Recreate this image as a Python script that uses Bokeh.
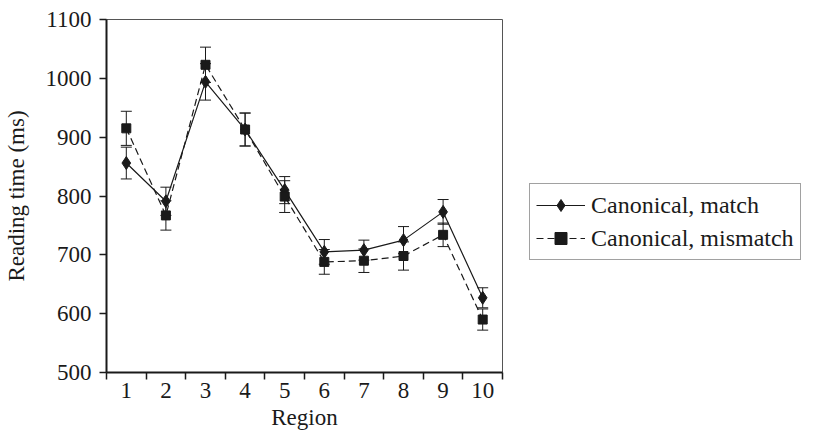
from bokeh.plotting import figure
from bokeh.models import (ColumnDataSource, Whisker, TeeHead, FixedTicker, Legend,
                          LegendItem, Range1d)
from bokeh.embed import file_html
from bokeh.resources import INLINE

# ---- data ----
regions = [1, 2, 3, 4, 5, 6, 7, 8, 9, 10]
match = [856, 791, 994, 913, 810, 705, 708, 725, 773, 627]
match_err = [27, 24, 31, 28, 23, 21, 17, 23, 21, 17]
mismatch = [915, 767, 1023, 913, 799, 688, 690, 698, 734, 590]
mismatch_err = [29, 25, 30, 28, 27, 21, 20, 24, 20, 18]
series_labels = ["Canonical, match", "Canonical, mismatch"]
y_ticks = [500, 600, 700, 800, 900, 1000, 1100]

FONT = "Liberation Serif"
INK = "#1a1a1a"

src_m = ColumnDataSource(dict(x=regions, y=match,
                              lo=[v - e for v, e in zip(match, match_err)],
                              hi=[v + e for v, e in zip(match, match_err)]))
src_mm = ColumnDataSource(dict(x=regions, y=mismatch,
                               lo=[v - e for v, e in zip(mismatch, mismatch_err)],
                               hi=[v + e for v, e in zip(mismatch, mismatch_err)]))

p = figure(frame_width=396, frame_height=353, output_backend="svg", toolbar_location=None,
           x_range=Range1d(0.5, 10.5), y_range=Range1d(500, 1100),
           min_border_left=106, min_border_top=19, min_border_right=10,
           min_border_bottom=54)
p.background_fill_color = "white"
p.border_fill_color = "white"
p.outline_line_color = "#555555"
p.outline_line_width = 1
p.grid.visible = False

# x axis: labels at centres, ticks at boundaries
xa = p.xaxis[0]
xa.ticker = FixedTicker(ticks=regions, minor_ticks=[r - 0.5 for r in regions] + [10.5])
xa.major_tick_out = 0
xa.major_tick_in = 0
xa.minor_tick_out = 7
xa.minor_tick_in = 0
xa.minor_tick_line_color = INK
xa.minor_tick_line_width = 1.5
xa.axis_label = "Region"

ya = p.yaxis[0]
ya.ticker = FixedTicker(ticks=y_ticks)
ya.major_tick_out = 7
ya.major_tick_in = 0
ya.minor_tick_out = 0
ya.minor_tick_in = 0
ya.axis_label = "Reading time (ms)"

for ax in (xa, ya):
    ax.axis_line_color = INK
    ax.axis_line_width = 2
    ax.major_tick_line_color = INK
    ax.major_tick_line_width = 1.5
    ax.major_label_text_font = FONT
    ax.major_label_text_font_size = "23px"
    ax.major_label_text_color = INK
    ax.axis_label_text_font = FONT
    ax.axis_label_text_font_size = "23px"
    ax.axis_label_text_font_style = "normal"
    ax.axis_label_text_color = INK
xa.major_label_standoff = 3
xa.axis_label_standoff = 4
ya.major_label_standoff = 8
ya.axis_label_standoff = 14

# error bars
for src in (src_m, src_mm):
    w = Whisker(source=src, base="x", lower="lo", upper="hi",
                line_color=INK, line_width=1,
                upper_head=TeeHead(size=11, line_color=INK, line_width=1),
                lower_head=TeeHead(size=11, line_color=INK, line_width=1))
    p.add_layout(w)

l1 = p.line("x", "y", source=src_m, line_color=INK, line_width=1.2)
s1 = p.scatter("x", "y", source=src_m, marker="diamond", size=13,
               fill_color=INK, line_color=INK)
l2 = p.line("x", "y", source=src_mm, line_color=INK, line_width=1.2, line_dash="7 4")
s2 = p.scatter("x", "y", source=src_mm, marker="square", size=9,
               fill_color=INK, line_color=INK)

legend = Legend(items=[LegendItem(label=series_labels[0], renderers=[l1, s1]),
                       LegendItem(label=series_labels[1], renderers=[l2, s2])],
                location=(27, 112))
legend.label_text_font = FONT
legend.label_text_font_size = "24px"
legend.label_text_color = INK
legend.glyph_width = 49
legend.glyph_height = 30
legend.label_height = 30
legend.label_standoff = 6
legend.spacing = 3
legend.padding = 6
legend.margin = 0
legend.border_line_color = "#444444"
legend.border_line_width = 1
legend.background_fill_alpha = 1
p.add_layout(legend, "right")

open("out.html", "w").write(file_html(p, INLINE))
